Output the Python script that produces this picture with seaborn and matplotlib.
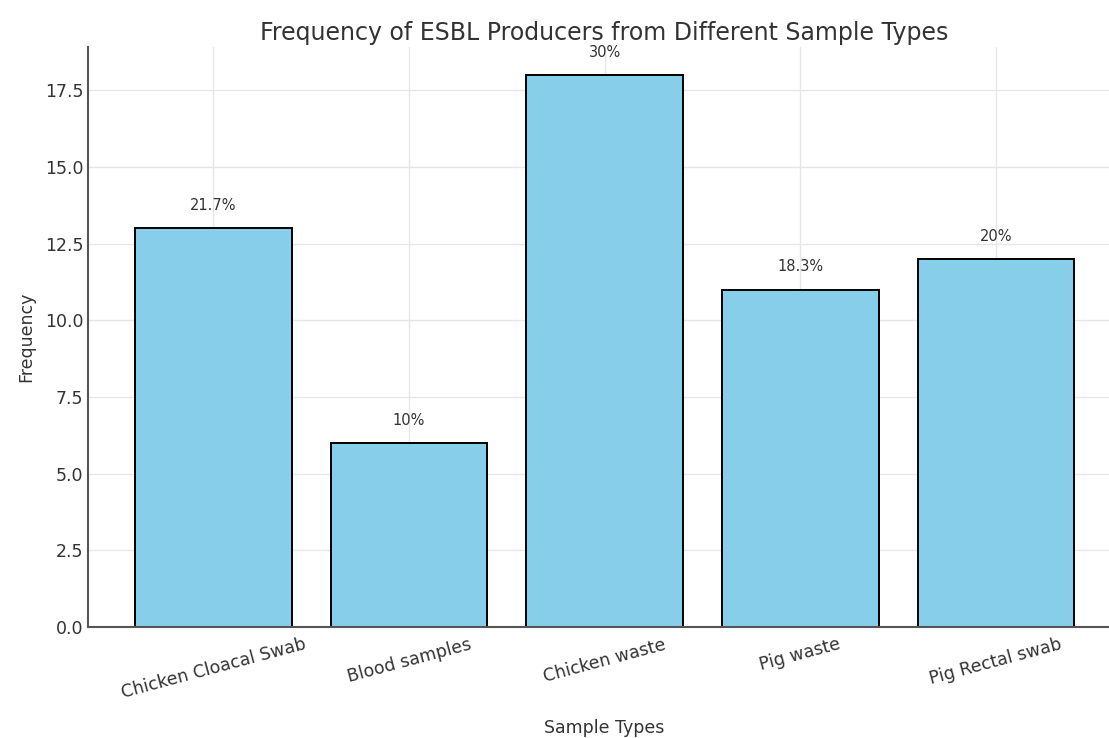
"""
Frequency of ESBL producers, bar chart
"""

import matplotlib
matplotlib.use("Agg")
import matplotlib.pyplot as plt
import seaborn as sns
import pandas as pd

sample_types = ["Chicken Cloacal Swab", "Blood samples", "Chicken waste", "Pig waste", "Pig Rectal swab"]
frequencies = [13, 6, 18, 11, 12]
percent_labels = ["21.7%", "10%", "30%", "18.3%", "20%"]

df = pd.DataFrame({"Sample Types": sample_types, "Frequency": frequencies})

sns.set_style("white")
plt.rcParams["font.family"] = ["DejaVu Sans"]
TEXT = "#333333"

fig = plt.figure(figsize=(11.09, 7.38), dpi=100)
ax = fig.add_axes([0.0794, 0.1504, 1.011 - 0.0794, 0.936 - 0.1504])

sns.barplot(data=df, x="Sample Types", y="Frequency", color="skyblue",
            edgecolor="black", linewidth=1.4, saturation=1, width=0.8, ax=ax)

for i, (h, lab) in enumerate(zip(frequencies, percent_labels)):
    ax.text(i, h + 0.5, lab, ha="center", va="bottom", fontsize=10.5, color=TEXT)

ax.set_xlim(-0.64, 4.64)
ax.set_ylim(0, 18.9)
ax.set_yticks([0, 2.5, 5, 7.5, 10, 12.5, 15, 17.5])
ax.set_yticklabels(["0.0", "2.5", "5.0", "7.5", "10.0", "12.5", "15.0", "17.5"])
ax.grid(True, color="#e6e6e6", linewidth=1)
ax.set_axisbelow(True)

for s in ["top", "right"]:
    ax.spines[s].set_visible(False)
for s in ["left", "bottom"]:
    ax.spines[s].set_color("#555555")
    ax.spines[s].set_linewidth(1.5)

ax.tick_params(axis="both", direction="in", length=5, colors="#555555",
               labelcolor=TEXT, labelsize=12.5)
ax.tick_params(axis="x", pad=6)
plt.setp(ax.get_xticklabels(), rotation=15)

ax.set_title("Frequency of ESBL Producers from Different Sample Types",
             fontsize=17, color=TEXT, pad=5)
ax.set_xlabel("Sample Types", fontsize=12.5, color=TEXT, labelpad=12)
ax.set_ylabel("Frequency", fontsize=12.5, color=TEXT, labelpad=7)

plt.savefig("out.png", dpi=100)
